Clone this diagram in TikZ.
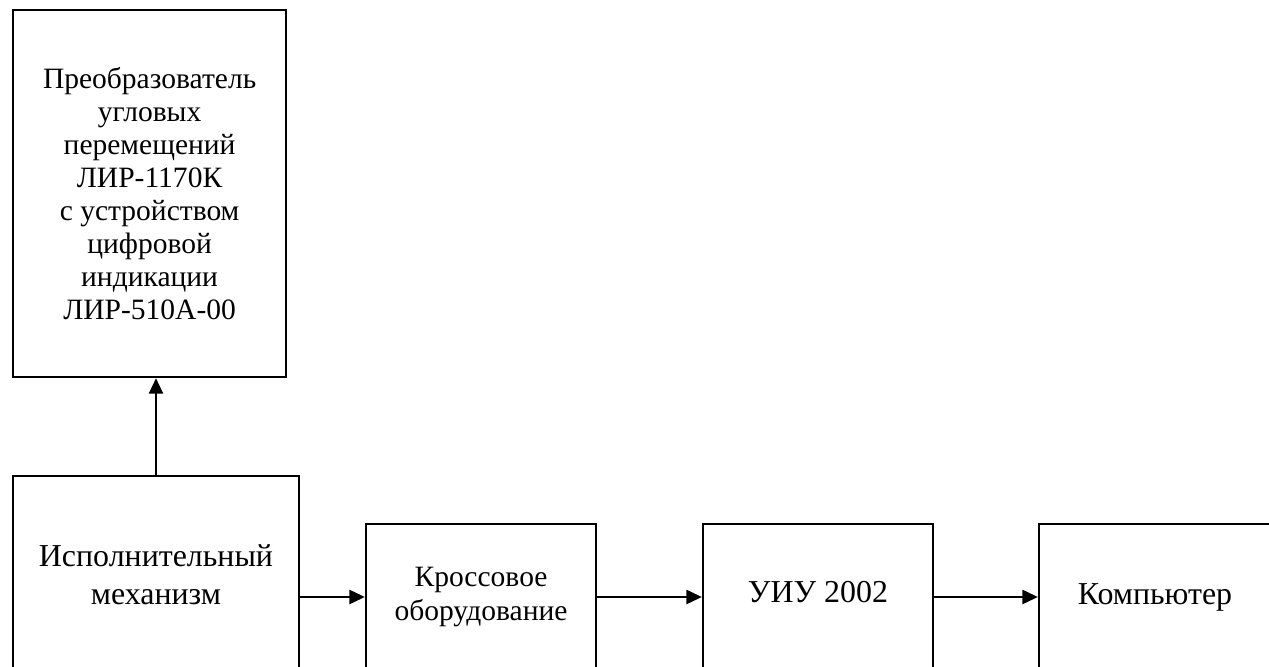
\documentclass[tikz,border=0pt]{standalone}
\usepackage{fontspec}
\setmainfont{Liberation Serif}
\usepackage{tikz}
\usetikzlibrary{arrows.meta,positioning,calc}

\tikzset{
  blk/.style={draw,line width=1.6pt,align=center,inner sep=0pt},
  big/.style={font=\fontsize{22.7pt}{27pt}\selectfont},
  mid/.style={font=\fontsize{21pt}{23.5pt}\selectfont},
  link/.style={line width=1.6pt,-{Triangle[length=11pt,width=10pt]}}
}

\begin{document}
\begin{tikzpicture}[x=1cm,y=1cm]
\clip (0,0) rectangle (31.725,16.65);
\node[blk,mid,minimum width=6.825cm,minimum height=9.175cm] (preob) at (3.74,11.81) {Преобразователь\\угловых\\перемещений\\ЛИР-1170К\\с устройством\\цифровой\\индикации\\ЛИР-510А-00};
\node[blk,big,minimum width=7.15cm,minimum height=4.95cm] (mech) at (3.9,2.275) {Исполнительный\\механизм};
\node[blk,mid,minimum width=5.75cm,minimum height=3.65cm] (kross) at (12.025,1.725) {Кроссовое\\оборудование};
\node[blk,big,minimum width=5.75cm,minimum height=3.65cm,text height=0.55cm,text depth=0.3cm] (uiu) at (20.45,1.725) {УИУ 2002};
\node[blk,big,minimum width=5.8cm,minimum height=3.65cm] (comp) at (28.875,1.725) {Компьютер};
\draw[link] (mech.north) -- (mech.north |- preob.south);
\draw[link] (mech.east |- kross) -- (kross);
\draw[link] (kross) -- (uiu);
\draw[link] (uiu) -- (comp);
\end{tikzpicture}
\end{document}
